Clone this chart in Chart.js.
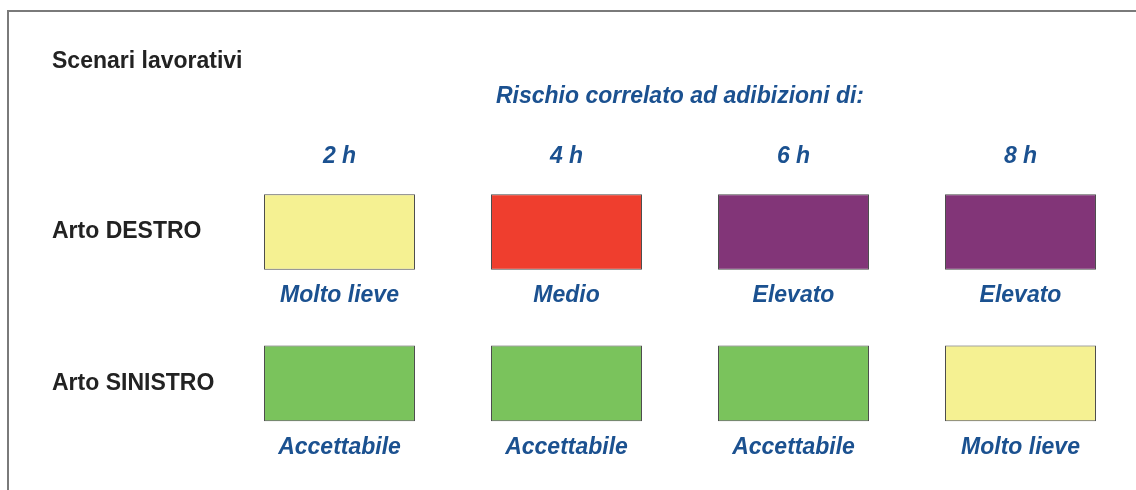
<!DOCTYPE html>
<html lang="it">
<head>
<meta charset="UTF-8">
<title>Scenari lavorativi</title>
<script src="https://cdn.jsdelivr.net/npm/chart.js"></script>
<style>
    html, body { margin: 0; padding: 0; background: #fff; overflow: hidden; }
    #frame { position: absolute; left: 7px; top: 10px; width: 1200px; height: 600px;
             border-top: 2px solid #7a7a7a; border-left: 2px solid #7a7a7a; }
    #wrap { position: absolute; left: 0; top: 0; width: 1136px; height: 490px; }
</style>
</head>
<body>
<div id="frame"></div>
<div id="wrap"><canvas id="riskChart"></canvas></div>

<script>
    const hours = ['2 h', '4 h', '6 h', '8 h'];
    const limbs = ['Arto DESTRO', 'Arto SINISTRO'];
    const rischioDestro = ['Molto lieve', 'Medio', 'Elevato', 'Elevato'];
    const rischioSinistro = ['Accettabile', 'Accettabile', 'Accettabile', 'Molto lieve'];
    const riskColors = {
        'Accettabile': '#7ac35c',
        'Molto lieve': '#f5f192',
        'Medio': '#ef3e2e',
        'Elevato': '#823578'
    };

    const blue = '#1b5190';
    const fontFamily = '"Liberation Sans", Arial, Helvetica, sans-serif';
    Chart.defaults.font.family = fontFamily;

    const risksByLimb = [rischioDestro, rischioSinistro];

    // each limb is one row; every box spans half a row around its index
    const datasets = limbs.map((limb, r) => ({
        label: limb,
        risks: risksByLimb[r],
        data: hours.map(() => [r - 0.25, r + 0.25]),
        backgroundColor: risksByLimb[r].map(k => riskColors[k]),
        borderColor: '#4a4a4a',
        borderWidth: 1,
        borderSkipped: false,
        grouped: false,
        barPercentage: 0.665,
        categoryPercentage: 1
    }));

    const riskLabels = {
        id: 'riskLabels',
        afterDatasetsDraw(chart) {
            const ctx = chart.ctx;
            ctx.save();
            ctx.font = 'italic bold 23px ' + fontFamily;
            ctx.fillStyle = blue;
            ctx.textAlign = 'center';
            ctx.textBaseline = 'middle';
            chart.data.datasets.forEach((ds, d) => {
                chart.getDatasetMeta(d).data.forEach((bar, i) => {
                    const bottom = Math.max(bar.y, bar.base);
                    ctx.fillText(ds.risks[i], bar.x, bottom + 26);
                });
            });
            ctx.restore();
        }
    };

    new Chart(document.getElementById('riskChart'), {
        type: 'bar',
        data: { labels: hours, datasets: datasets },
        plugins: [riskLabels],
        options: {
            responsive: true,
            maintainAspectRatio: false,
            animation: false,
            layout: { padding: { left: 52, right: 2, top: 0, bottom: 10 } },
            plugins: {
                legend: { display: false },
                tooltip: { enabled: false },
                title: {
                    display: true,
                    text: 'Scenari lavorativi',
                    align: 'start',
                    color: '#222',
                    font: { size: 23, weight: 'bold' },
                    padding: { top: 48, bottom: 0 }
                }
            },
            scales: {
                x: {
                    type: 'category',
                    position: 'top',
                    offset: true,
                    grid: { display: false, drawTicks: false },
                    border: { display: false },
                    ticks: { color: blue, padding: 3, font: { size: 23, weight: 'bold', style: 'italic' } },
                    title: {
                        display: true,
                        text: 'Rischio correlato ad adibizioni di:',
                        color: blue,
                        font: { size: 23, weight: 'bold', style: 'italic' },
                        padding: { top: 7, bottom: 0 }
                    },
                    afterFit(scale) { scale.height = 97.5; }
                },
                y: {
                    type: 'linear',
                    reverse: true,
                    min: -0.389,
                    max: 1.593,
                    grid: { display: false, drawTicks: false },
                    border: { display: false },
                    afterBuildTicks(scale) { scale.ticks = limbs.map((_, i) => ({ value: i })); },
                    ticks: {
                        color: '#222',
                        crossAlign: 'far',
                        font: { size: 23, weight: 'bold' },
                        callback: (v) => limbs[v]
                    },
                    afterFit(scale) { scale.width = 174; }
                }
            }
        }
    });
</script>
</body>
</html>
